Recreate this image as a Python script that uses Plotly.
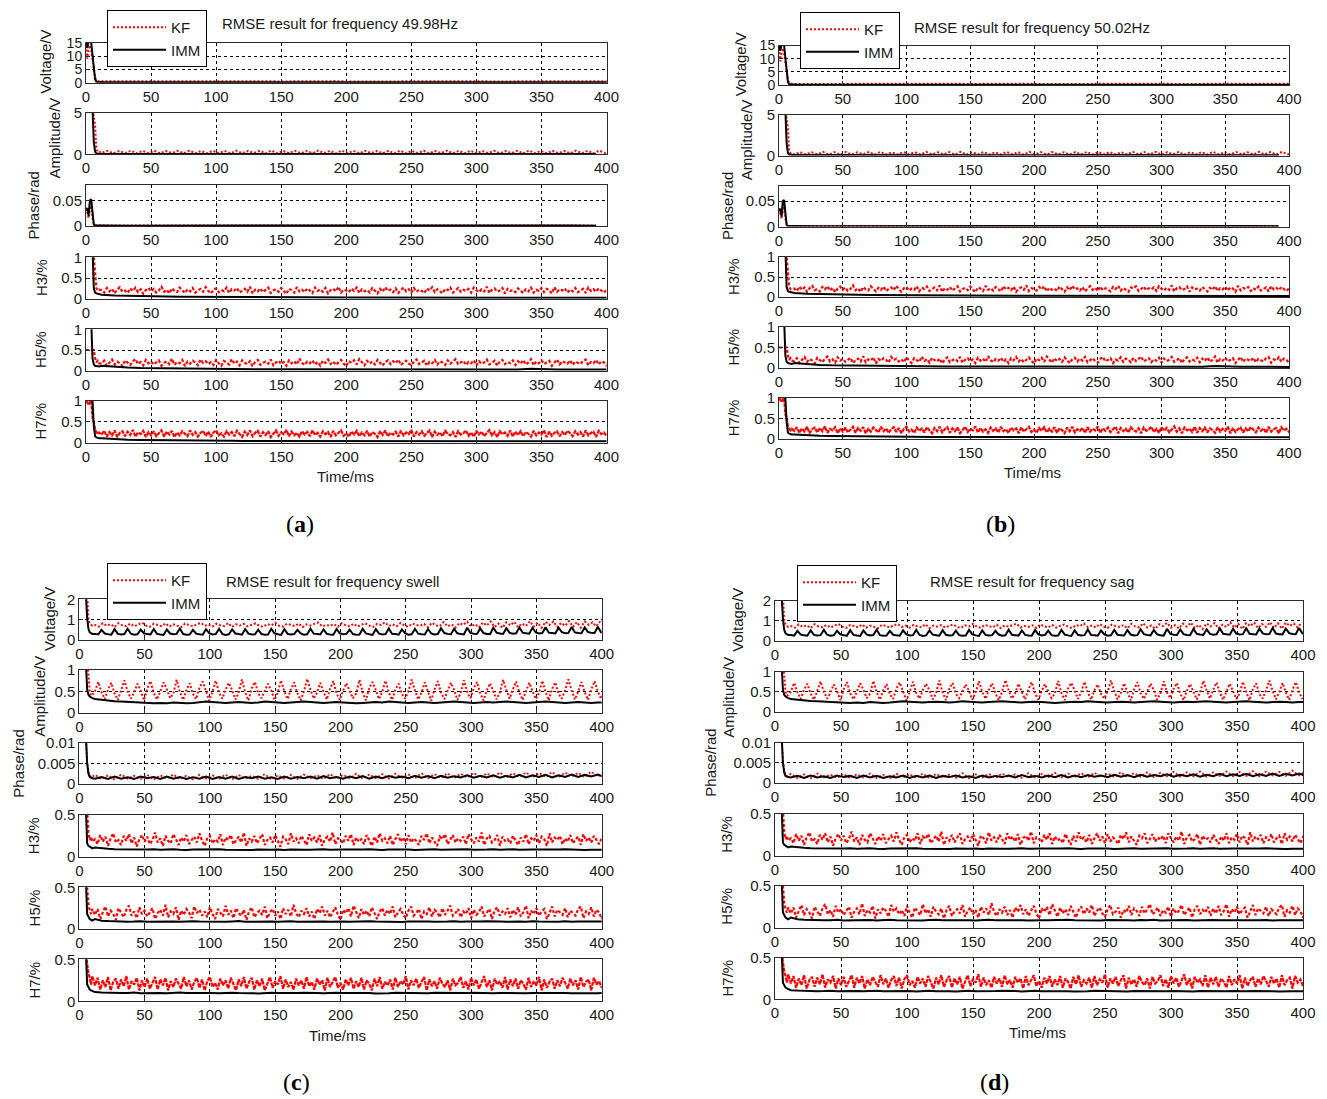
import plotly.graph_objects as go

W, H = 1327, 1099

# ---------------- data ----------------
time_ticks = [0, 50, 100, 150, 200, 250, 300, 350, 400]
row_labels = ["Voltage/V", "Amplitude/V", "Phase/rad", "H3/%", "H5/%", "H7/%"]
titles = ["RMSE result for frequency 49.98Hz", "RMSE result for frequency 50.02Hz",
          "RMSE result for frequency swell", "RMSE result for frequency sag"]
panel_tags = ["a", "b", "c", "d"]
series_names = ["KF", "IMM"]

# heads: t = 0..10 ms (1 ms step); tails: from t = 12 ms with the given step
# ---- panels (a)/(b): frequency deviation ----
kf_v_ab_head = [14.0, 9.0, 12.0, 14.0, 12.0, 8.0, 5.0, 2.0, 0.8, 0.6, 0.5]
imm_v_ab_head = [15.5, 13.0, 15.5, 15.5, 15.0, 10.0, 5.0, 1.2, 0.35, 0.25, 0.22]
kf_v_ab_tail = [0.5, 0.45, 0.55, 0.42, 0.5, 0.58, 0.46, 0.52, 0.55, 0.44, 0.5, 0.57, 0.43, 0.51, 0.48, 0.56, 0.45, 0.52, 0.6, 0.47,
                0.5, 0.44, 0.55, 0.49, 0.53, 0.42, 0.56, 0.5, 0.46, 0.54, 0.48, 0.58, 0.45, 0.51, 0.55, 0.43, 0.5, 0.57, 0.47, 0.52]
imm_v_ab_tail = [0.22, 0.2, 0.18, 0.2, 0.19, 0.17, 0.2, 0.18, 0.21, 0.19, 0.18, 0.2, 0.17, 0.19, 0.21, 0.18, 0.2, 0.19, 0.17, 0.2,
                 0.18, 0.21, 0.19, 0.18, 0.2, 0.17, 0.19, 0.2, 0.18, 0.21, 0.19, 0.17, 0.2, 0.18, 0.19, 0.21, 0.18, 0.2, 0.19, 0.18]

kf_a_ab_head = [6.0, 6.0, 6.0, 6.0, 6.0, 6.0, 4.5, 3.5, 0.6, 0.3, 0.35]
imm_a_ab_head = [6.0, 6.0, 6.0, 6.0, 6.0, 5.5, 1.5, 0.3, 0.12, 0.08, 0.06]
kf_a_ab_tail = [0.14, 0.42, 0.12, 0.4, 0.15, 0.44, 0.11, 0.41, 0.13, 0.43, 0.12, 0.39, 0.15, 0.42, 0.11, 0.45, 0.13, 0.4, 0.12, 0.43,
                0.14, 0.41, 0.11, 0.44, 0.13, 0.4, 0.15, 0.42, 0.12, 0.46, 0.11, 0.41, 0.14, 0.43, 0.12, 0.4, 0.13, 0.44, 0.15, 0.42,
                0.11, 0.45, 0.13, 0.41, 0.12, 0.43, 0.14, 0.4, 0.11, 0.42, 0.13, 0.44, 0.12, 0.41, 0.15, 0.43, 0.11, 0.4, 0.14, 0.45,
                0.12, 0.42, 0.13, 0.44, 0.11, 0.41, 0.15, 0.43, 0.12, 0.4, 0.14, 0.42, 0.11, 0.46, 0.13, 0.41, 0.12, 0.43, 0.14, 0.4,
                0.11, 0.44, 0.13, 0.42, 0.12, 0.45, 0.14, 0.41]
imm_a_ab_tail = [0.05, 0.05, 0.04, 0.05, 0.04, 0.04, 0.05, 0.04, 0.04, 0.04,
                 0.04, 0.05, 0.04, 0.04, 0.04, 0.04, 0.05, 0.04, 0.04, 0.04]

kf_p_ab_head = [0.035, 0.025, 0.015, 0.03, 0.04, 0.015, 0.003, 0.0015, 0.0012, 0.0012, 0.0012]
imm_p_ab_head = [0.03, 0.035, 0.02, 0.05, 0.052, 0.02, 0.003, 0.001, 0.0008, 0.0008, 0.0008]
kf_p_ab_tail = [0.0012, 0.0011, 0.0012, 0.0013, 0.0012, 0.0011, 0.0012, 0.0012, 0.0013, 0.0012,
                0.0011, 0.0012, 0.0012, 0.0013, 0.0012, 0.0011, 0.0012, 0.0012, 0.0013, 0.0012]
imm_p_ab_tail = [0.0008, 0.0007, 0.0008, 0.0008, 0.0007, 0.0008, 0.0008, 0.0007, 0.0008, 0.0008,
                 0.0007, 0.0008, 0.0008, 0.0007, 0.0008, 0.0008, 0.0007, 0.0008, 0.0008, 0.0007]

kf_h3_ab_head = [1.2, 1.2, 1.2, 1.2, 1.2, 1.2, 1.0, 0.55, 0.25, 0.2, 0.22]
imm_h3_ab_head = [1.2, 1.2, 1.2, 1.2, 1.2, 1.2, 0.25, 0.15, 0.13, 0.12, 0.11]
kf_h5_ab_head = [0.5, 0.5, 0.5, 0.5, 0.5, 0.5, 0.5, 0.3, 0.2, 0.24, 0.18]
imm_h5_ab_head = [1.2, 1.2, 1.2, 1.2, 1.2, 0.3, 0.15, 0.12, 0.11, 0.1, 0.1]
kf_h7_ab_head = [1.0, 0.95, 0.9, 0.97, 1.0, 0.6, 0.5, 0.3, 0.25, 0.2, 0.24]
imm_h7_ab_head = [1.05, 1.02, 1.05, 1.03, 1.05, 1.0, 0.4, 0.15, 0.12, 0.11, 0.1]
imm_h3_ab_tail = [0.1, 0.08, 0.07, 0.065, 0.06, 0.055, 0.05, 0.05, 0.048, 0.045, 0.04, 0.04, 0.038, 0.036, 0.035, 0.035, 0.034, 0.033, 0.032, 0.032,
                  0.031, 0.03, 0.03, 0.03, 0.03, 0.029, 0.029, 0.028, 0.028, 0.028, 0.028, 0.027, 0.027, 0.027, 0.027, 0.026, 0.026, 0.026, 0.026, 0.026]
imm_h5_ab_tail = [0.12, 0.09, 0.075, 0.065, 0.06, 0.055, 0.05, 0.048, 0.045, 0.042, 0.04, 0.038, 0.037, 0.036, 0.035, 0.034, 0.033, 0.033, 0.032, 0.032,
                  0.031, 0.031, 0.03, 0.03, 0.03, 0.03, 0.029, 0.029, 0.028, 0.028, 0.028, 0.028, 0.03, 0.05, 0.03, 0.028, 0.028, 0.028, 0.027, 0.027]
imm_h7_ab_tail = [0.1, 0.08, 0.065, 0.06, 0.055, 0.05, 0.047, 0.045, 0.043, 0.04, 0.04, 0.038, 0.037, 0.036, 0.035, 0.034, 0.034, 0.033, 0.033, 0.032,
                  0.032, 0.031, 0.031, 0.031, 0.03, 0.03, 0.03, 0.03, 0.03, 0.03, 0.029, 0.029, 0.029, 0.029, 0.029, 0.028, 0.028, 0.028, 0.028, 0.028]

# KF harmonic error bands (2 ms step), same level in all four panels
kf_h3_tail = [0.21, 0.15, 0.26, 0.18, 0.24, 0.13, 0.22, 0.28, 0.17, 0.20, 0.14, 0.25, 0.19, 0.27, 0.16, 0.23, 0.12, 0.21, 0.26, 0.18,
              0.24, 0.15, 0.20, 0.29, 0.17, 0.22, 0.13, 0.25, 0.19, 0.16, 0.27, 0.21, 0.14, 0.23, 0.18, 0.26, 0.15, 0.20, 0.24, 0.17,
              0.28, 0.19, 0.13, 0.22, 0.25, 0.16, 0.21, 0.18, 0.27, 0.14, 0.23, 0.20, 0.26, 0.15, 0.19, 0.24, 0.17, 0.29, 0.13, 0.22,
              0.18, 0.25, 0.16, 0.21, 0.27, 0.14, 0.20, 0.23, 0.17, 0.26, 0.19, 0.12, 0.24, 0.21, 0.15, 0.28, 0.18, 0.22, 0.16, 0.25,
              0.20, 0.14, 0.27, 0.19, 0.23, 0.17, 0.26, 0.13, 0.21, 0.24, 0.18, 0.29, 0.15, 0.22, 0.20, 0.16, 0.25, 0.19, 0.27, 0.14,
              0.23, 0.18, 0.21, 0.15, 0.26, 0.20, 0.13, 0.24, 0.17, 0.28, 0.19, 0.22, 0.16, 0.25, 0.14, 0.21, 0.27, 0.18, 0.23, 0.15,
              0.26, 0.17, 0.22, 0.19, 0.14, 0.25, 0.20, 0.28, 0.16, 0.23, 0.18, 0.13, 0.24, 0.21, 0.27, 0.15, 0.20, 0.26, 0.17, 0.22,
              0.19, 0.24, 0.15, 0.27, 0.21, 0.16, 0.23, 0.18, 0.29, 0.14, 0.22, 0.25, 0.17, 0.20, 0.26, 0.13, 0.24, 0.19, 0.21, 0.16,
              0.25, 0.20, 0.14, 0.23, 0.18, 0.27, 0.15, 0.22, 0.19, 0.26, 0.16, 0.24, 0.21, 0.13, 0.28, 0.17, 0.23, 0.20, 0.25, 0.15,
              0.22, 0.18, 0.26, 0.16, 0.21, 0.24, 0.14, 0.27, 0.19, 0.23, 0.17, 0.25, 0.20, 0.15, 0.22, 0.28, 0.18, 0.24, 0.16, 0.21]
kf_h5_tail = [0.17, 0.24, 0.12, 0.20, 0.27, 0.15, 0.22, 0.18, 0.11, 0.25, 0.19, 0.14, 0.23, 0.28, 0.16, 0.21, 0.13, 0.26, 0.18, 0.22,
              0.15, 0.20, 0.25, 0.12, 0.19, 0.23, 0.16, 0.29, 0.14, 0.21, 0.18, 0.26, 0.11, 0.22, 0.17, 0.24, 0.20, 0.13, 0.27, 0.19,
              0.23, 0.16, 0.21, 0.14, 0.26, 0.18, 0.12, 0.24, 0.20, 0.15, 0.28, 0.17, 0.22, 0.13, 0.25, 0.19, 0.16, 0.23, 0.11, 0.21,
              0.26, 0.14, 0.19, 0.22, 0.17, 0.27, 0.13, 0.20, 0.24, 0.16, 0.21, 0.12, 0.25, 0.18, 0.23, 0.15, 0.29, 0.19, 0.14, 0.22,
              0.18, 0.25, 0.15, 0.21, 0.12, 0.24, 0.19, 0.27, 0.16, 0.22, 0.14, 0.20, 0.26, 0.17, 0.11, 0.23, 0.19, 0.25, 0.15, 0.28,
              0.20, 0.13, 0.24, 0.17, 0.22, 0.15, 0.26, 0.19, 0.12, 0.21, 0.25, 0.16, 0.23, 0.18, 0.27, 0.14, 0.20, 0.24, 0.17, 0.13,
              0.22, 0.27, 0.16, 0.19, 0.24, 0.12, 0.21, 0.18, 0.26, 0.15, 0.23, 0.20, 0.14, 0.25, 0.17, 0.22, 0.28, 0.16, 0.19, 0.24,
              0.14, 0.21, 0.18, 0.25, 0.13, 0.23, 0.17, 0.20, 0.27, 0.15, 0.19, 0.24, 0.12, 0.22, 0.26, 0.16, 0.21, 0.18, 0.25, 0.14,
              0.23, 0.17, 0.26, 0.15, 0.20, 0.28, 0.13, 0.22, 0.18, 0.25, 0.16, 0.21, 0.24, 0.12, 0.19, 0.27, 0.15, 0.23, 0.20, 0.17,
              0.25, 0.14, 0.22, 0.19, 0.16, 0.24, 0.27, 0.13, 0.21, 0.18, 0.26, 0.15, 0.23, 0.20, 0.12, 0.24, 0.17, 0.22, 0.19, 0.26]
kf_h7_tail = [0.19, 0.28, 0.14, 0.25, 0.17, 0.29, 0.13, 0.23, 0.27, 0.15, 0.26, 0.18, 0.30, 0.14, 0.24, 0.20, 0.28, 0.13, 0.25, 0.17,
              0.27, 0.15, 0.22, 0.29, 0.14, 0.26, 0.19, 0.28, 0.13, 0.24, 0.17, 0.27, 0.21, 0.15, 0.29, 0.18, 0.25, 0.14, 0.23, 0.28,
              0.16, 0.26, 0.13, 0.24, 0.29, 0.17, 0.22, 0.14, 0.27, 0.19, 0.25, 0.15, 0.28, 0.20, 0.13, 0.26, 0.18, 0.29, 0.15, 0.23,
              0.28, 0.14, 0.25, 0.18, 0.27, 0.13, 0.22, 0.29, 0.16, 0.24, 0.20, 0.30, 0.15, 0.26, 0.17, 0.23, 0.14, 0.27, 0.19, 0.25,
              0.15, 0.29, 0.18, 0.23, 0.14, 0.27, 0.20, 0.25, 0.13, 0.28, 0.17, 0.24, 0.29, 0.16, 0.22, 0.14, 0.26, 0.19, 0.28, 0.15,
              0.24, 0.17, 0.28, 0.14, 0.25, 0.21, 0.13, 0.27, 0.18, 0.29, 0.15, 0.23, 0.19, 0.26, 0.14, 0.28, 0.17, 0.24, 0.20, 0.30,
              0.14, 0.25, 0.19, 0.27, 0.16, 0.23, 0.29, 0.13, 0.26, 0.18, 0.24, 0.15, 0.28, 0.21, 0.17, 0.25, 0.13, 0.27, 0.19, 0.22,
              0.29, 0.16, 0.24, 0.14, 0.28, 0.19, 0.26, 0.15, 0.23, 0.30, 0.17, 0.25, 0.13, 0.27, 0.20, 0.24, 0.16, 0.29, 0.14, 0.26,
              0.18, 0.27, 0.15, 0.25, 0.21, 0.14, 0.28, 0.17, 0.24, 0.19, 0.29, 0.13, 0.26, 0.16, 0.23, 0.27, 0.15, 0.25, 0.18, 0.28,
              0.22, 0.15, 0.27, 0.19, 0.25, 0.14, 0.29, 0.17, 0.23, 0.26, 0.13, 0.28, 0.20, 0.24, 0.16, 0.27, 0.18, 0.25, 0.14, 0.23]

# ---- panels (c)/(d): frequency swell / sag ----
kf_v_cd_head = [2.3, 2.3, 2.3, 2.3, 2.3, 2.3, 2.3, 1.0, 0.8, 0.75, 0.7]
imm_v_cd_head = [2.3, 2.3, 2.3, 2.3, 2.3, 2.3, 1.1, 0.55, 0.38, 0.33, 0.3]
kf_v_cd_tail = [0.74, 0.66, 0.82, 0.7, 0.78, 0.64, 0.83, 0.72, 0.68, 0.8, 0.67, 0.76, 0.85, 0.71, 0.65, 0.8, 0.74, 0.68, 0.82, 0.66,
                0.77, 0.71, 0.63, 0.81, 0.74, 0.67, 0.78, 0.84, 0.7, 0.76, 0.66, 0.8, 0.72, 0.68, 0.83, 0.64, 0.77, 0.71, 0.79, 0.67,
                0.75, 0.82, 0.69, 0.65, 0.78, 0.72, 0.85, 0.7, 0.66, 0.8, 0.74, 0.68, 0.81, 0.64, 0.77, 0.71, 0.79, 0.86, 0.67, 0.74,
                0.7, 0.78, 0.65, 0.83, 0.72, 0.68, 0.8, 0.66, 0.75, 0.82, 0.71, 0.64, 0.79, 0.74, 0.87, 0.69, 0.77, 0.67, 0.84, 0.71,
                0.65, 0.81, 0.74, 0.7, 0.79, 0.63, 0.85, 0.72, 0.68, 0.88, 0.67, 0.77, 0.61, 0.83, 0.74, 0.9, 0.66, 0.78, 0.62, 0.86,
                0.71, 0.91, 0.64, 0.8, 0.6, 0.87, 0.72, 0.89, 0.63, 0.81, 0.69, 0.92, 0.66, 0.85, 0.6, 0.89, 0.74, 0.91, 0.64, 0.84,
                0.7, 0.93, 0.65, 0.88, 0.61, 0.91, 0.75, 0.87, 0.67, 0.93]
imm_v_cd_tail = [0.3, 0.27, 0.5, 0.32, 0.28, 0.26, 0.53, 0.3, 0.27, 0.29, 0.55, 0.31, 0.26, 0.28, 0.51, 0.33, 0.29, 0.27, 0.54, 0.3,
                 0.27, 0.25, 0.52, 0.32, 0.28, 0.3, 0.56, 0.29, 0.26, 0.27, 0.5, 0.31, 0.28, 0.26, 0.53, 0.33, 0.27, 0.29, 0.55, 0.3,
                 0.25, 0.28, 0.52, 0.32, 0.29, 0.26, 0.54, 0.31, 0.27, 0.28, 0.51, 0.29, 0.26, 0.27, 0.55, 0.33, 0.28, 0.25, 0.53, 0.3,
                 0.27, 0.29, 0.5, 0.32, 0.26, 0.28, 0.56, 0.31, 0.29, 0.27, 0.52, 0.3, 0.27, 0.26, 0.54, 0.33, 0.28, 0.3, 0.51, 0.29,
                 0.26, 0.27, 0.55, 0.32, 0.28, 0.25, 0.53, 0.31, 0.27, 0.29, 0.57, 0.3, 0.29, 0.26, 0.52, 0.33, 0.26, 0.28, 0.55, 0.31,
                 0.28, 0.27, 0.54, 0.32, 0.27, 0.29, 0.58, 0.34, 0.3, 0.28, 0.55, 0.33, 0.29, 0.27, 0.6, 0.35, 0.31, 0.3, 0.57, 0.34,
                 0.3, 0.29, 0.6, 0.36, 0.32, 0.3, 0.58, 0.35, 0.31, 0.33, 0.62, 0.36, 0.33, 0.31, 0.6, 0.37, 0.32, 0.34, 0.63, 0.36,
                 0.34, 0.32, 0.61, 0.38, 0.33, 0.35, 0.64, 0.37, 0.34, 0.33, 0.62, 0.39, 0.35, 0.34, 0.65, 0.38, 0.36, 0.34, 0.63, 0.4]

kf_a_cd_head = [1.2, 1.2, 1.2, 1.2, 1.2, 1.2, 1.2, 0.9, 0.5, 0.4, 0.42]
imm_a_cd_head = [1.2, 1.2, 1.2, 1.2, 1.2, 1.2, 0.55, 0.42, 0.38, 0.35, 0.34]
kf_a_cd_tail = [0.5, 0.72, 0.48, 0.32, 0.55, 0.7, 0.45, 0.3, 0.52, 0.76, 0.5, 0.33, 0.47, 0.68, 0.52, 0.29, 0.56, 0.74, 0.46, 0.31,
                0.5, 0.71, 0.55, 0.34, 0.45, 0.77, 0.49, 0.3, 0.53, 0.69, 0.44, 0.32, 0.58, 0.73, 0.51, 0.28, 0.49, 0.75, 0.47, 0.33,
                0.54, 0.7, 0.53, 0.31, 0.46, 0.78, 0.48, 0.29, 0.57, 0.72, 0.45, 0.34, 0.51, 0.68, 0.52, 0.3, 0.48, 0.76, 0.5, 0.32,
                0.55, 0.71, 0.46, 0.29, 0.5, 0.79, 0.54, 0.33, 0.47, 0.7, 0.49, 0.31, 0.56, 0.74, 0.45, 0.3, 0.52, 0.69, 0.51, 0.34,
                0.45, 0.77, 0.47, 0.29, 0.58, 0.72, 0.53, 0.32, 0.49, 0.75, 0.48, 0.3, 0.54, 0.68, 0.44, 0.33, 0.5, 0.78, 0.52, 0.31,
                0.47, 0.71, 0.49, 0.28, 0.55, 0.74, 0.46, 0.32, 0.51, 0.7, 0.54, 0.3, 0.46, 0.76, 0.48, 0.34, 0.57, 0.72, 0.45, 0.29,
                0.52, 0.69, 0.5, 0.31, 0.48, 0.77, 0.53, 0.33, 0.55, 0.73, 0.47, 0.3, 0.5, 0.7, 0.51, 0.32, 0.46, 0.75, 0.49, 0.29,
                0.56, 0.71, 0.44, 0.33, 0.53, 0.78, 0.52, 0.31, 0.49, 0.72, 0.48, 0.3, 0.54, 0.74, 0.5, 0.32, 0.5, 0.7, 0.46, 0.31]
imm_a_cd_tail = [0.32, 0.3, 0.28, 0.27, 0.26, 0.25, 0.24, 0.23, 0.23, 0.22, 0.23, 0.22, 0.24, 0.23, 0.22, 0.23, 0.25, 0.26, 0.25, 0.24,
                 0.23, 0.24, 0.25, 0.24, 0.23, 0.24, 0.26, 0.25, 0.24, 0.23, 0.24, 0.25, 0.26, 0.25, 0.24, 0.23, 0.24, 0.25, 0.24, 0.23,
                 0.22, 0.23, 0.24, 0.25, 0.24, 0.26, 0.25, 0.24, 0.23, 0.24, 0.25, 0.24, 0.23, 0.24, 0.25, 0.26, 0.25, 0.24, 0.23, 0.24,
                 0.25, 0.24, 0.25, 0.26, 0.25, 0.24, 0.23, 0.24, 0.25, 0.26, 0.25, 0.24, 0.23, 0.24, 0.25, 0.24, 0.23, 0.24, 0.25, 0.24]

kf_p_cd_head = [0.012, 0.012, 0.012, 0.012, 0.012, 0.012, 0.0055, 0.003, 0.002, 0.0016, 0.0018]
imm_p_cd_head = [0.012, 0.012, 0.012, 0.012, 0.012, 0.012, 0.005, 0.0025, 0.0017, 0.0015, 0.0014]
kf_p_cd_tail = [0.0022, 0.0012, 0.0021, 0.0011, 0.0023, 0.0013, 0.002, 0.0012, 0.0022, 0.0011, 0.0021, 0.0013, 0.0023, 0.0012, 0.002, 0.0011, 0.0022, 0.0013, 0.0021, 0.0012,
                0.0023, 0.0011, 0.0022, 0.0013, 0.002, 0.0012, 0.0024, 0.0011, 0.0021, 0.0013, 0.0022, 0.0012, 0.0023, 0.0014, 0.0021, 0.0012, 0.0024, 0.0013, 0.0022, 0.0014,
                0.0025, 0.0013, 0.0023, 0.0014, 0.0024, 0.0013, 0.0025, 0.0015, 0.0023, 0.0014, 0.0026, 0.0014, 0.0024, 0.0015, 0.0026, 0.0014, 0.0025, 0.0016, 0.0027, 0.0015,
                0.0026, 0.0016, 0.0028, 0.0015, 0.0026, 0.0017, 0.0028, 0.0016, 0.0027, 0.0017, 0.0029, 0.0016, 0.0028, 0.0018, 0.0027, 0.0017, 0.003, 0.0018, 0.0029, 0.0019]
imm_p_cd_tail = [0.0013, 0.0017, 0.0012, 0.0018, 0.0013, 0.0016, 0.0012, 0.0018, 0.0014, 0.0017, 0.0012, 0.0018, 0.0013, 0.0017, 0.0012, 0.0016, 0.0013, 0.0018, 0.0012, 0.0017,
                 0.0013, 0.0018, 0.0012, 0.0017, 0.0014, 0.0018, 0.0013, 0.0016, 0.0012, 0.0018, 0.0013, 0.0017, 0.0014, 0.0018, 0.0013, 0.0019, 0.0014, 0.0017, 0.0013, 0.0018,
                 0.0014, 0.0019, 0.0013, 0.0018, 0.0014, 0.0019, 0.0015, 0.0018, 0.0014, 0.002, 0.0015, 0.0019, 0.0014, 0.002, 0.0015, 0.0019, 0.0016, 0.0021, 0.0015, 0.002,
                 0.0016, 0.0021, 0.0015, 0.002, 0.0016, 0.0022, 0.0016, 0.0021, 0.0017, 0.0022, 0.0016, 0.0021, 0.0017, 0.0023, 0.0017, 0.0022, 0.0018, 0.0023, 0.0017, 0.0024]

kf_h3_cd_head = [0.6, 0.6, 0.6, 0.6, 0.6, 0.6, 0.55, 0.28, 0.2, 0.24, 0.18]
imm_h3_cd_head = [0.6, 0.6, 0.6, 0.6, 0.6, 0.6, 0.16, 0.13, 0.12, 0.11, 0.1]
kf_h5_cd_head = [0.6, 0.6, 0.6, 0.6, 0.6, 0.6, 0.5, 0.3, 0.22, 0.18, 0.24]
imm_h5_cd_head = [0.6, 0.6, 0.6, 0.6, 0.6, 0.6, 0.18, 0.14, 0.12, 0.11, 0.1]
kf_h7_cd_head = [0.6, 0.6, 0.6, 0.6, 0.6, 0.6, 0.45, 0.33, 0.28, 0.2, 0.3]
imm_h7_cd_head = [0.6, 0.6, 0.6, 0.6, 0.6, 0.6, 0.2, 0.16, 0.14, 0.13, 0.12]
imm_h3_cd_tail = [0.11, 0.10, 0.095, 0.09, 0.088, 0.085, 0.09, 0.083, 0.085, 0.088, 0.082, 0.086, 0.09, 0.084, 0.08, 0.085, 0.088, 0.083, 0.086, 0.09,
                  0.084, 0.082, 0.087, 0.085, 0.08, 0.086, 0.089, 0.083, 0.085, 0.081, 0.087, 0.09, 0.084, 0.082, 0.086, 0.088, 0.083, 0.08, 0.085, 0.087,
                  0.082, 0.086, 0.09, 0.084, 0.081, 0.085, 0.088, 0.083, 0.086, 0.08, 0.084, 0.087, 0.09, 0.083, 0.085, 0.082, 0.086, 0.089, 0.084, 0.081,
                  0.085, 0.088, 0.082, 0.086, 0.09, 0.083, 0.08, 0.085, 0.087, 0.084, 0.082, 0.086, 0.089, 0.083, 0.085, 0.08, 0.084, 0.087, 0.083, 0.085]
imm_h5_cd_tail = [0.12, 0.10, 0.095, 0.09, 0.092, 0.088, 0.09, 0.094, 0.087, 0.09, 0.093, 0.088, 0.091, 0.086, 0.09, 0.094, 0.089, 0.087, 0.092, 0.09,
                  0.086, 0.091, 0.095, 0.088, 0.09, 0.087, 0.093, 0.089, 0.086, 0.091, 0.094, 0.088, 0.09, 0.086, 0.092, 0.089, 0.087, 0.093, 0.09, 0.088,
                  0.091, 0.086, 0.094, 0.089, 0.087, 0.092, 0.09, 0.085, 0.091, 0.093, 0.088, 0.09, 0.086, 0.092, 0.089, 0.094, 0.087, 0.09, 0.088, 0.091,
                  0.093, 0.087, 0.09, 0.086, 0.092, 0.089, 0.088, 0.094, 0.09, 0.087, 0.091, 0.088, 0.093, 0.086, 0.09, 0.089, 0.092, 0.087, 0.09, 0.088]
imm_h7_cd_tail = [0.11, 0.105, 0.1, 0.102, 0.098, 0.1, 0.104, 0.097, 0.1, 0.103, 0.099, 0.096, 0.101, 0.104, 0.098, 0.1, 0.097, 0.102, 0.099, 0.095,
                  0.1, 0.103, 0.098, 0.101, 0.097, 0.094, 0.1, 0.102, 0.098, 0.096, 0.101, 0.099, 0.103, 0.097, 0.1, 0.095, 0.099, 0.102, 0.098, 0.1,
                  0.096, 0.101, 0.098, 0.094, 0.1, 0.097, 0.102, 0.099, 0.096, 0.1, 0.098, 0.095, 0.101, 0.099, 0.097, 0.1, 0.094, 0.098, 0.101, 0.097,
                  0.099, 0.095, 0.1, 0.098, 0.096, 0.101, 0.097, 0.099, 0.094, 0.098, 0.1, 0.096, 0.099, 0.097, 0.095, 0.1, 0.098, 0.096, 0.099, 0.097]

# (kf head, kf tail, kf step, imm head, imm tail, imm step) per row
ab_rows = [
    (kf_v_ab_head, kf_v_ab_tail, 10, imm_v_ab_head, imm_v_ab_tail, 10),
    (kf_a_ab_head, kf_a_ab_tail, 4.5, imm_a_ab_head, imm_a_ab_tail, 20),
    (kf_p_ab_head, kf_p_ab_tail, 20, imm_p_ab_head, imm_p_ab_tail, 20),
    (kf_h3_ab_head, kf_h3_tail, 2, imm_h3_ab_head, imm_h3_ab_tail, 10),
    (kf_h5_ab_head, kf_h5_tail, 2, imm_h5_ab_head, imm_h5_ab_tail, 10),
    (kf_h7_ab_head, kf_h7_tail, 2, imm_h7_ab_head, imm_h7_ab_tail, 10),
]
cd_rows = [
    (kf_v_cd_head, kf_v_cd_tail, 3, imm_v_cd_head, imm_v_cd_tail, 2.5),
    (kf_a_cd_head, kf_a_cd_tail, 2.5, imm_a_cd_head, imm_a_cd_tail, 5),
    (kf_p_cd_head, kf_p_cd_tail, 5, imm_p_cd_head, imm_p_cd_tail, 5),
    (kf_h3_cd_head, kf_h3_tail, 2, imm_h3_cd_head, imm_h3_cd_tail, 5),
    (kf_h5_cd_head, kf_h5_tail, 2, imm_h5_cd_head, imm_h5_cd_tail, 5),
    (kf_h7_cd_head, kf_h7_tail, 2, imm_h7_cd_head, imm_h7_cd_tail, 5),
]

ab_yaxes = [([0, 15], [0, 5, 10, 15], ["0", "5", "10", "15"]),
            ([0, 5], [0, 5], ["0", "5"]),
            ([0, 0.08], [0, 0.05], ["0", "0.05"]),
            ([0, 1], [0, 0.5, 1], ["0", "0.5", "1"]),
            ([0, 1], [0, 0.5, 1], ["0", "0.5", "1"]),
            ([0, 1], [0, 0.5, 1], ["0", "0.5", "1"])]
cd_yaxes = [([0, 2], [0, 1, 2], ["0", "1", "2"]),
            ([0, 1], [0, 0.5, 1], ["0", "0.5", "1"]),
            ([0, 0.01], [0, 0.005, 0.01], ["0", "0.005", "0.01"]),
            ([0, 0.5], [0, 0.5], ["0", "0.5"]),
            ([0, 0.5], [0, 0.5], ["0", "0.5"]),
            ([0, 0.5], [0, 0.5], ["0", "0.5"])]

# ---------------- layout geometry (pixels) ----------------
panels = [
    dict(left=86, right=606.5,
         rows=[(42.7, 82.7), (112.7, 154.3), (185, 226), (257.3, 298.8), (329.3, 370.7), (400.7, 442.5)],
         lab_off=[40, 32, 53, 45, 45, 45], legend=(107, 10), title=(220, 23), xlabel=(345, 476), tag=(300, 524)),
    dict(left=779, right=1289,
         rows=[(45.5, 85.2), (115, 155.5), (185.7, 226.5), (257, 297), (327, 368), (398, 438.5)],
         lab_off=[39, 33, 52, 46, 46, 46], legend=(800, 12), title=(912, 27), xlabel=(1032, 472), tag=(1000, 524)),
    dict(left=79.3, right=601.7,
         rows=[(599.3, 640), (670, 712.7), (742.7, 784), (815, 856.7), (887.3, 929), (959.3, 1001.3)],
         lab_off=[30, 40, 61, 45, 45, 45], legend=(107, 563), title=(224, 581), xlabel=(338, 1035), tag=(296, 1082)),
    dict(left=775, right=1303,
         rows=[(600.7, 641), (671.7, 711.7), (742.7, 782.7), (814, 855.7), (885.7, 927.7), (957.7, 999.3)],
         lab_off=[37, 46, 64, 48, 48, 48], legend=(797, 565), title=(928, 582), xlabel=(1037, 1032), tag=(994, 1082)),
]

FONT = "Liberation Sans, Arial, sans-serif"
TXT = "#1a1a1a"
tick_font = dict(family=FONT, size=15, color=TXT)


def build(head, tail, step, t0=12):
    xs = list(range(len(head))) + [t0 + i * step for i in range(len(tail))]
    return xs, list(head) + list(tail)


fig = go.Figure()
layout = dict(width=W, height=H, margin=dict(l=0, r=0, t=0, b=0, pad=0, autoexpand=False),
              paper_bgcolor="white", plot_bgcolor="white", annotations=[])

axis_common = dict(showline=True, mirror=True, linecolor="#2b2b2b", linewidth=1,
                   ticks="inside", ticklen=4, tickcolor="#2b2b2b",
                   showgrid=True, gridcolor="#000000", gridwidth=1, griddash="3px,3px",
                   zeroline=False, tickfont=tick_font, fixedrange=True, automargin=False)

kf_dash = ["2px,2px", "2px,2px", "2px,2px", "3px,2px", "3px,2px", "4px,1px"]
kf_width = [2, 2, 1.8, 2.2, 2.2, 2.2]
label_shift = [-1, 5, 0, 0, 0, 0]

for p, g in enumerate(panels):
    rows = ab_rows if p < 2 else cd_rows
    yconf = ab_yaxes if p < 2 else cd_yaxes
    leg = "legend" if p == 0 else f"legend{p + 1}"
    for r in range(6):
        k = p * 6 + r + 1
        xa = "x" if k == 1 else f"x{k}"
        ya = "y" if k == 1 else f"y{k}"
        kh, kt, ks, ih, it, is_ = rows[r]
        kx, ky = build(kh, kt, ks)
        ix, iy = build(ih, it, is_)
        fig.add_trace(go.Scatter(x=kx, y=ky, mode="lines", name=series_names[0],
                                 line=dict(color="#ff0000", width=kf_width[r], dash=kf_dash[r]),
                                 xaxis=xa, yaxis=ya, legend=leg, showlegend=(r == 0),
                                 hoverinfo="skip"))
        fig.add_trace(go.Scatter(x=ix, y=iy, mode="lines", name=series_names[1],
                                 line=dict(color="#000000", width=2),
                                 xaxis=xa, yaxis=ya, legend=leg, showlegend=(r == 0),
                                 hoverinfo="skip"))
        top, bot = g["rows"][r]
        yr, tv, tt = yconf[r]
        yfont = dict(tick_font, size=14) if (p < 2 and r == 0) else tick_font
        layout[f"xaxis{'' if k == 1 else k}"] = dict(
            axis_common, domain=[g["left"] / W, g["right"] / W], anchor=ya,
            range=[0, 400], tickvals=time_ticks, ticktext=[str(t) for t in time_ticks])
        layout[f"yaxis{'' if k == 1 else k}"] = dict(
            axis_common, domain=[1 - bot / H, 1 - top / H], anchor=xa,
            range=yr, tickvals=tv, ticktext=tt, tickfont=yfont)
        layout["annotations"].append(dict(
            text=row_labels[r], textangle=-90, xref="paper", yref="paper",
            x=(g["left"] - g["lab_off"][r]) / W, y=1 - ((top + bot) / 2 + label_shift[r]) / H,
            xanchor="center", yanchor="middle", showarrow=False,
            font=dict(family=FONT, size=15, color=TXT)))
    lx, ly = g["legend"]
    layout[leg] = dict(x=lx / W, y=1 - ly / H, xanchor="left", yanchor="top",
                       bgcolor="white", bordercolor="#000000", borderwidth=1,
                       font=dict(family=FONT, size=15, color=TXT), itemwidth=53,
                       tracegroupgap=0)
    tx, ty = g["title"]
    layout["annotations"].append(dict(text=titles[p], xref="paper", yref="paper",
                                      x=tx / W, y=1 - ty / H, xanchor="left", yanchor="middle",
                                      showarrow=False, font=dict(family=FONT, size=15, color=TXT)))
    xx, xy = g["xlabel"]
    layout["annotations"].append(dict(text="Time/ms", xref="paper", yref="paper",
                                      x=xx / W, y=1 - xy / H, xanchor="center", yanchor="middle",
                                      showarrow=False, font=dict(family=FONT, size=15, color=TXT)))
    gx, gy = g["tag"]
    layout["annotations"].append(dict(text=f"(<b>{panel_tags[p]}</b>)", xref="paper", yref="paper",
                                      x=gx / W, y=1 - gy / H, xanchor="center", yanchor="middle",
                                      showarrow=False,
                                      font=dict(family="Liberation Serif, Times New Roman, serif", size=24, color="#000")))

fig.update_layout(**layout)
fig.write_html("out.html", config={"displayModeBar": False, "staticPlot": True},
               post_script="document.body.style.margin='0px';document.body.style.overflow='hidden';")
